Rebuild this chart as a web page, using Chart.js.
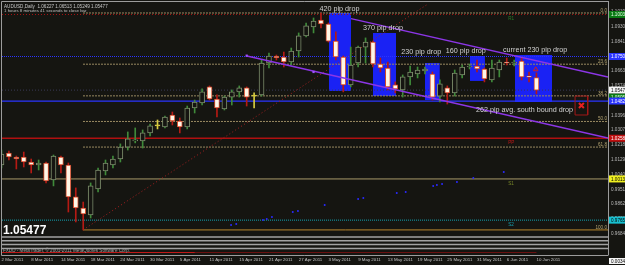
<!DOCTYPE html>
<html>
<head>
<meta charset="utf-8">
<script src="https://cdn.jsdelivr.net/npm/chart.js@4.4.1/dist/chart.umd.min.js"></script>
<style>
html, body { margin: 0; padding: 0; background: #151511; }
#wrap { width: 625px; height: 265px; }
</style>
</head>
<body>
<div id="wrap"><canvas id="chart" width="625" height="265"></canvas></div>
<script>
// AUDUSD daily bars, 2 Mar 2011 - 10 Jun 2011
const dates = [
    '2 Mar 2011', '3 Mar 2011', '4 Mar 2011', '7 Mar 2011', '8 Mar 2011', '9 Mar 2011', '10 Mar 2011', '11 Mar 2011',
    '14 Mar 2011', '15 Mar 2011', '16 Mar 2011', '17 Mar 2011', '18 Mar 2011', '21 Mar 2011', '22 Mar 2011', '23 Mar 2011',
    '24 Mar 2011', '25 Mar 2011', '28 Mar 2011', '29 Mar 2011', '30 Mar 2011', '31 Mar 2011',
    '1 Apr 2011', '4 Apr 2011', '5 Apr 2011', '6 Apr 2011', '7 Apr 2011', '8 Apr 2011', '11 Apr 2011', '12 Apr 2011',
    '13 Apr 2011', '14 Apr 2011', '15 Apr 2011', '18 Apr 2011', '19 Apr 2011', '20 Apr 2011', '21 Apr 2011', '22 Apr 2011',
    '25 Apr 2011', '26 Apr 2011', '27 Apr 2011', '28 Apr 2011', '29 Apr 2011',
    '2 May 2011', '3 May 2011', '4 May 2011', '5 May 2011', '6 May 2011', '9 May 2011', '10 May 2011', '11 May 2011',
    '12 May 2011', '13 May 2011', '16 May 2011', '17 May 2011', '18 May 2011', '19 May 2011', '20 May 2011', '23 May 2011',
    '24 May 2011', '25 May 2011', '26 May 2011', '27 May 2011', '30 May 2011', '31 May 2011',
    '1 Jun 2011', '2 Jun 2011', '3 Jun 2011', '6 Jun 2011', '7 Jun 2011', '8 Jun 2011', '9 Jun 2011', '10 Jun 2011'
];
const open = [
    1.0097, 1.0169, 1.0145, 1.0145, 1.0115, 1.0097, 1.0109, 1.0007, 1.0145, 1.0097,
    0.9905, 0.9838, 0.9796, 0.9953, 1.0061, 1.0097, 1.0133, 1.0205, 1.0242, 1.0242,
    1.0290, 1.0332, 1.0326, 1.0398, 1.0362, 1.0326, 1.0440, 1.0470, 1.0567, 1.0494,
    1.0434, 1.0506, 1.0537, 1.0561, 1.0512, 1.0519, 1.0711, 1.0753, 1.0747, 1.0717,
    1.0783, 1.0874, 1.0928, 1.0970, 1.0946, 1.0843, 1.0747, 1.0579, 1.0711, 1.0807,
    1.0837, 1.0705, 1.0681, 1.0579, 1.0549, 1.0627, 1.0645, 1.0663, 1.0645, 1.0512,
    1.0561, 1.0531, 1.0639, 1.0687, 1.0693, 1.0675, 1.0609, 1.0669, 1.0717, 1.0711,
    1.0723, 1.0627, 1.06227
];
const high = [
    1.0187, 1.0181, 1.0151, 1.0175, 1.0133, 1.0127, 1.0115, 1.0157, 1.0151, 1.0109,
    0.9959, 0.9874, 0.9989, 1.0079, 1.0127, 1.0151, 1.0224, 1.0296, 1.0320, 1.0308,
    1.0344, 1.0368, 1.0392, 1.0416, 1.0380, 1.0452, 1.0488, 1.0555, 1.0573, 1.0519,
    1.0512, 1.0549, 1.0573, 1.0567, 1.0531, 1.0729, 1.0771, 1.0759, 1.0777, 1.0801,
    1.0892, 1.0952, 1.0982, 1.1012, 1.0952, 1.0898, 1.0753, 1.0807, 1.0813, 1.0862,
    1.0843, 1.0741, 1.0717, 1.0597, 1.0639, 1.0693, 1.0687, 1.0687, 1.0657, 1.0609,
    1.0573, 1.0669, 1.0699, 1.0705, 1.0729, 1.0681, 1.0729, 1.0729, 1.0741, 1.0729,
    1.0741, 1.0657, 1.06513
];
const low = [
    1.0079, 1.0127, 1.0073, 1.0085, 1.0049, 1.0067, 0.9989, 0.9971, 1.0049, 0.9814,
    0.9754, 0.9706, 0.9778, 0.9935, 1.0037, 1.0079, 1.0115, 1.0187, 1.0230, 1.0199,
    1.0272, 1.0314, 1.0320, 1.0338, 1.0290, 1.0314, 1.0410, 1.0458, 1.0488, 1.0386,
    1.0428, 1.0458, 1.0506, 1.0452, 1.0440, 1.0512, 1.0681, 1.0729, 1.0687, 1.0699,
    1.0747, 1.0868, 1.0892, 1.0922, 1.0837, 1.0729, 1.0537, 1.0567, 1.0687, 1.0711,
    1.0687, 1.0657, 1.0549, 1.0531, 1.0506, 1.0579, 1.0621, 1.0645, 1.0488, 1.0476,
    1.0464, 1.0512, 1.0621, 1.0675, 1.0657, 1.0597, 1.0597, 1.0627, 1.0699, 1.0693,
    1.0609, 1.0597, 1.05249
];
const close = [
    1.0163, 1.0145, 1.0133, 1.0115, 1.0097, 1.0109, 1.0001, 1.0151, 1.0097, 0.9905,
    0.9838, 0.9802, 0.9971, 1.0067, 1.0109, 1.0133, 1.0205, 1.0254, 1.0244, 1.0290,
    1.0332, 1.0332, 1.0386, 1.0362, 1.0326, 1.0440, 1.0476, 1.0537, 1.0494, 1.0440,
    1.0506, 1.0537, 1.0561, 1.0506, 1.0512, 1.0711, 1.0753, 1.0741, 1.0717, 1.0783,
    1.0874, 1.0934, 1.0964, 1.0946, 1.0843, 1.0747, 1.0579, 1.0699, 1.0807, 1.0837,
    1.0705, 1.0681, 1.0567, 1.0555, 1.0627, 1.0657, 1.0669, 1.0675, 1.0506, 1.0585,
    1.0531, 1.0651, 1.0687, 1.0693, 1.0675, 1.0615, 1.0681, 1.0717, 1.0711, 1.0717,
    1.0627, 1.0626, 1.05477
];

// axis ticks
const priceTicks = [1.10190, 1.09300, 1.08410, 1.07520, 1.06630, 1.05740, 1.04850, 1.03960,
    1.03070, 1.02180, 1.01290, 1.00400, 0.99510, 0.98620, 0.97730, 0.96840];
const dateTicks = [0, 4, 8, 12, 16, 20, 24, 28, 32, 36, 40, 44, 48, 52, 56, 60, 64, 68, 72];

// visible window (bar index / price)
const xMin = 0.07, xMax = 81.63;
const yMin = 0.96695, yMax = 1.10842;

// fibo from the 17 Mar low to the 2 May high
const fibStart = 10.97;
const fibHigh = 1.1012, fibLow = 0.9706;
const fibLevels = [0, 23.6, 38.2, 50.0, 61.8, 100.0];

// horizontal levels
const levelRedDotted = 1.1003;
const levelBlueDotted = 1.0750;
const levelBlue = 1.0482;
const levelRed = 1.0258;
const levelTan = 1.0013;
const levelCyan = 0.9765;
const lastPrice = 1.05477;
const levelGreen = 1.0505;

// trend lines [bar index, price]
const upperChannel = [[47.04, 1.0978], [81.63, 1.0627]];
const lowerChannel = [[33.04, 1.0753], [81.63, 1.0260]];
const riseLine = [[10.97, 0.9706], [57.4, 1.1066]];
const channelAnchors = [[33.0, 1.0755], [42.0, 1.0657]];

// blue boxes over each drop
const boxX0 = [44.08, 50.0, 57.0, 63.05, 69.1];
const boxX1 = [47.04, 53.1, 59.0, 65.07, 74.1];
const boxTop = [1.1012, 1.0892, 1.0711, 1.0753, 1.0759];
const boxBottom = [1.0543, 1.0512, 1.0488, 1.0603, 1.0476];

// alert box + arrow
const alertX = [77.2, 78.9];
const alertY = [1.0512, 1.0398];
const arrowPoint = [71.9, 1.0672];

// indicator dots
const dotX = [30.9, 31.6, 35.2, 35.7, 36.4, 39.2, 39.9, 43.5, 48.0, 48.7, 53.2, 54.4, 58.1, 58.6, 59.3, 61.3, 63.5, 67.6];
const dotY = [0.9736, 0.9742, 0.9766, 0.9772, 0.9784, 0.9814, 0.9820, 0.9856, 0.9892, 0.9898, 0.9928, 0.9934,
    0.9970, 0.9976, 0.9982, 0.9995, 1.0019, 1.0055];

const FONT = 'Liberation Sans';
const BG = '#151511';

const idx = dates.map((d, i) => i);
const isDoji = i => open[i] === close[i];
const isBull = i => close[i] > open[i];
const wickColor = idx.map(i => isDoji(i) ? '#d8cc40' : isBull(i) ? '#3f8a3a' : '#b51a14');
const bodyFill = idx.map(i => isDoji(i) ? '#d8cc40' : isBull(i) ? BG : '#fff6e6');
const bodyEdge = idx.map(i => isDoji(i) ? '#d8cc40' : isBull(i) ? '#7d8e6c' : '#d2482a');

const hline = (x0, x1, y) => [{ x: x0, y: y }, { x: x1, y: y }];
const seg = pts => pts.map(p => ({ x: p[0], y: p[1] }));
const fibPrice = lv => fibHigh - lv / 100 * (fibHigh - fibLow);

const lineSet = (data, color, extra) => Object.assign({
    type: 'line', data: data, borderColor: color, borderWidth: 1, pointRadius: 0, fill: false, order: 14
}, extra || {});

const datasets = [];

// boxes
boxX0.forEach((x0, k) => {
    datasets.push({
        type: 'line',
        data: hline(x0, boxX1[k], boxTop[k]),
        fill: { value: boxBottom[k] },
        backgroundColor: '#1a22f4',
        borderColor: 'rgba(0,0,0,0)',
        borderWidth: 0,
        pointRadius: 0,
        order: 20
    });
});

// fibo levels
fibLevels.forEach(lv => {
    datasets.push(lineSet(hline(fibStart, xMax, fibPrice(lv)),
        lv === 100 ? '#b8862e' : '#9a8a62', lv === 100 ? {} : { borderDash: [2, 1] }));
});

// levels
datasets.push(lineSet(hline(xMin, xMax, levelRedDotted), '#a51414', { borderDash: [1, 2] }));
datasets.push(lineSet(hline(xMin, xMax, levelBlueDotted), '#2a34ff', { borderDash: [1, 1] }));
datasets.push(lineSet(hline(xMin, xMax, lastPrice), '#3a3a58', { borderDash: [1, 2] }));
datasets.push(lineSet(hline(xMin, xMax, levelBlue), '#2a34ff', { borderWidth: 1.2 }));
datasets.push(lineSet(hline(xMin, xMax, levelRed), '#b01010', { borderWidth: 1.5 }));
datasets.push(lineSet(hline(xMin, xMax, levelTan), '#a89a6a'));
datasets.push(lineSet(hline(xMin, xMax, levelCyan), '#12a4b4', { borderDash: [1, 1] }));
datasets.push(lineSet(seg(riseLine), '#a82020', { borderDash: [1, 2.5], order: 13 }));

// candles: wicks then bodies
datasets.push({
    type: 'bar',
    data: idx.map(i => ({ x: i, y: [low[i], high[i]] })),
    backgroundColor: wickColor,
    barThickness: 1,
    grouped: false,
    order: 6
});
datasets.push({
    type: 'bar',
    data: idx.map(i => ({ x: i, y: [open[i], close[i]] })),
    backgroundColor: bodyFill,
    borderColor: bodyEdge,
    borderWidth: 1,
    borderSkipped: false,
    barThickness: 5,
    minBarLength: 1,
    grouped: false,
    order: 5
});

// channel
datasets.push(lineSet(seg(upperChannel), '#8c36e6', { borderWidth: 1.5, order: 3 }));
datasets.push(lineSet(seg(lowerChannel), '#8c36e6', { borderWidth: 1.5, order: 3 }));
datasets.push({
    type: 'line', data: seg(channelAnchors), showLine: false,
    pointStyle: 'rect', pointRadius: 1.6, pointBackgroundColor: '#a050ff', pointBorderWidth: 0, order: 2
});

// indicator dots
datasets.push({
    type: 'line', data: dotX.map((x, k) => ({ x: x, y: dotY[k] })), showLine: false,
    pointRadius: 1, pointBackgroundColor: '#2a2aff', pointBorderWidth: 0, order: 2
});

// alert box, its cross and the arrow
datasets.push(lineSet([
    { x: alertX[0], y: alertY[0] }, { x: alertX[1], y: alertY[0] },
    { x: alertX[1], y: alertY[1] }, { x: alertX[0], y: alertY[1] }, { x: alertX[0], y: alertY[0] }
], '#a01818', { order: 1 }));
datasets.push({
    type: 'line', data: [{ x: (alertX[0] + alertX[1]) / 2, y: (alertY[0] + alertY[1]) / 2 }], showLine: false,
    pointStyle: 'crossRot', pointRadius: 3.5, pointBorderColor: '#e82020', pointBorderWidth: 2, order: 1
});
datasets.push({
    type: 'line', data: [{ x: arrowPoint[0], y: arrowPoint[1] }], showLine: false,
    pointStyle: 'triangle', pointRadius: 2.6, pointBorderColor: '#d02020', pointBackgroundColor: 'rgba(0,0,0,0)',
    pointBorderWidth: 1, order: 1
});

const overlay = {
    id: 'overlay',
    beforeDraw(chart) {
        const c = chart.ctx;
        c.save();
        c.fillStyle = BG;
        c.fillRect(0, 0, chart.width, chart.height);
        c.restore();
    },
    afterDraw(chart) {
        const c = chart.ctx, xs = chart.scales.x, ys = chart.scales.y, a = chart.chartArea;
        const px = v => xs.getPixelForValue(v);
        const py = v => ys.getPixelForValue(v);
        const txt = (s, x, y, size, color, align, weight) => {
            c.font = (weight || '') + ' ' + size + 'px "' + FONT + '"';
            c.fillStyle = color;
            c.textAlign = align || 'left';
            c.textBaseline = 'alphabetic';
            c.fillText(s, x, y);
        };
        c.save();

        // frame
        c.strokeStyle = '#9c9c9c';
        c.lineWidth = 1;
        c.beginPath();
        c.moveTo(1.5, 255.5); c.lineTo(1.5, 1.5); c.lineTo(a.right, 1.5);
        c.moveTo(a.right + 0.5, a.bottom); c.lineTo(a.right + 0.5, 255.5);
        c.moveTo(1.5, 255.5); c.lineTo(a.right, 255.5);
        c.stroke();

        // sub window
        c.strokeStyle = '#a2a2a2';
        c.lineWidth = 1.5;
        [237, 240.8, 244.6, 248.4].forEach(y => {
            c.beginPath(); c.moveTo(a.left, y); c.lineTo(a.right, y); c.stroke();
        });
        c.lineWidth = 1;
        c.strokeStyle = '#6a1010';
        c.beginPath(); c.moveTo(a.left, 252.5); c.lineTo(px(72), 252.5); c.stroke();
        c.strokeStyle = '#c01818';
        c.beginPath(); c.moveTo(a.left, 252.5); c.lineTo(px(26), 252.5); c.stroke();
        txt('FXDD - MetaTrader, \u00a9 2001-2011 MetaQuotes Software Corp.', 3, 252, 4.6, '#a0a0a0');

        // header
        txt('AUDUSD,Daily  1.06227 1.06513 1.05249 1.05477', 4, 7.5, 4.6, '#c8c8c8');
        txt('1 hours 8 minutes 41 seconds to close bar', 4, 12, 4.4, '#c0c0c0');

        // drop notes
        const note = '#d2d2d2';
        txt('420 pip drop', px(42.8), py(1.1021), 7.2, note);
        txt('370 pip drop', px(48.65), py(1.0907), 7.2, note);
        txt('230 pip drop', px(53.8), py(1.0768), 7.2, note);
        txt('160 pip drop', px(59.8), py(1.0774), 7.2, note);
        txt('current 230 pip drop', px(67.5), py(1.0780), 7.2, note);
        txt('262 pip avg. south bound drop', px(63.86), py(1.0416), 7.2, note);

        // fibo labels
        fibLevels.forEach(lv => {
            txt(lv.toFixed(1), a.right - 1, py(fibPrice(lv)) - 1, 4.6, '#b4a472', 'right');
        });

        // level labels
        txt('R1', px(68.2), py(levelRedDotted) + 6, 4.6, '#2a7a2a');
        txt('PP', px(68.2), py(levelRed) + 6, 4.6, '#c01818');
        txt('S1', px(68.2), py(levelTan) + 6.5, 4.6, '#7a8a2a');
        txt('S2', px(68.2), py(levelCyan) + 6, 4.6, '#18a0b0');

        // last price
        txt('1.05477', 3, 234, 12, '#ffffff', 'left', 'bold');

        // price markers on the axis
        const mark = (p, bg, fg) => {
            const y = py(p);
            c.fillStyle = bg;
            c.fillRect(a.right + 1, y - 3.5, chart.width - a.right, 7);
            txt(p.toFixed(5), a.right + 3, y + 1.8, 4.6, fg);
        };
        mark(levelRedDotted, '#0a7a14', '#e8ffe8');
        mark(levelBlueDotted, '#2a34ff', '#ffffff');
        mark(lastPrice, '#f4f4f4', '#000000');
        mark(levelGreen, '#0a7a14', '#e8ffe8');
        mark(levelBlue, '#2a34ff', '#ffffff');
        mark(levelRed, '#c01010', '#ffffff');
        mark(levelTan, '#f0f020', '#000000');
        mark(levelCyan, '#18c0d0', '#000000');
        c.fillStyle = '#f4f4f4';
        c.fillRect(a.right + 1, 258, chart.width - a.right, 6);
        txt('0.0034', a.right + 3, 263, 4.6, '#000000');
        c.restore();
    }
};

// keep the plot area fixed: no extra room for tick labels
const noPad = s => { s.paddingLeft = 0; s.paddingRight = 0; s.paddingTop = 0; s.paddingBottom = 0; };

new Chart(document.getElementById('chart'), {
    type: 'bar',
    data: { datasets: datasets },
    options: {
        responsive: false,
        animation: false,
        devicePixelRatio: 1,
        layout: { padding: { left: 2, top: 1, right: 0, bottom: 0 }, autoPadding: false },
        plugins: { legend: { display: false }, tooltip: { enabled: false } },
        scales: {
            x: {
                type: 'linear',
                min: xMin,
                max: xMax,
                offset: false,
                grid: { display: false, drawTicks: true, tickLength: 21 },
                border: { display: false },
                afterFit: s => { s.height = 29; noPad(s); },
                afterBuildTicks: s => { s.ticks = dateTicks.map(v => ({ value: v })); },
                ticks: {
                    autoSkip: false,
                    maxRotation: 0,
                    align: 'start',
                    padding: 0,
                    color: '#c4c4c4',
                    font: { family: FONT, size: 4.4 },
                    callback: v => dates[v]
                }
            },
            y: {
                position: 'right',
                min: yMin,
                max: yMax,
                grid: { display: false, drawTicks: false },
                border: { display: true, color: '#9c9c9c' },
                afterFit: s => { s.width = 17; noPad(s); },
                afterBuildTicks: s => { s.ticks = priceTicks.map(v => ({ value: v })); },
                ticks: {
                    padding: 3,
                    color: '#b8b8b8',
                    font: { family: FONT, size: 4.6 },
                    callback: v => v.toFixed(5)
                }
            }
        }
    },
    plugins: [overlay]
});
</script>
</body>
</html>
